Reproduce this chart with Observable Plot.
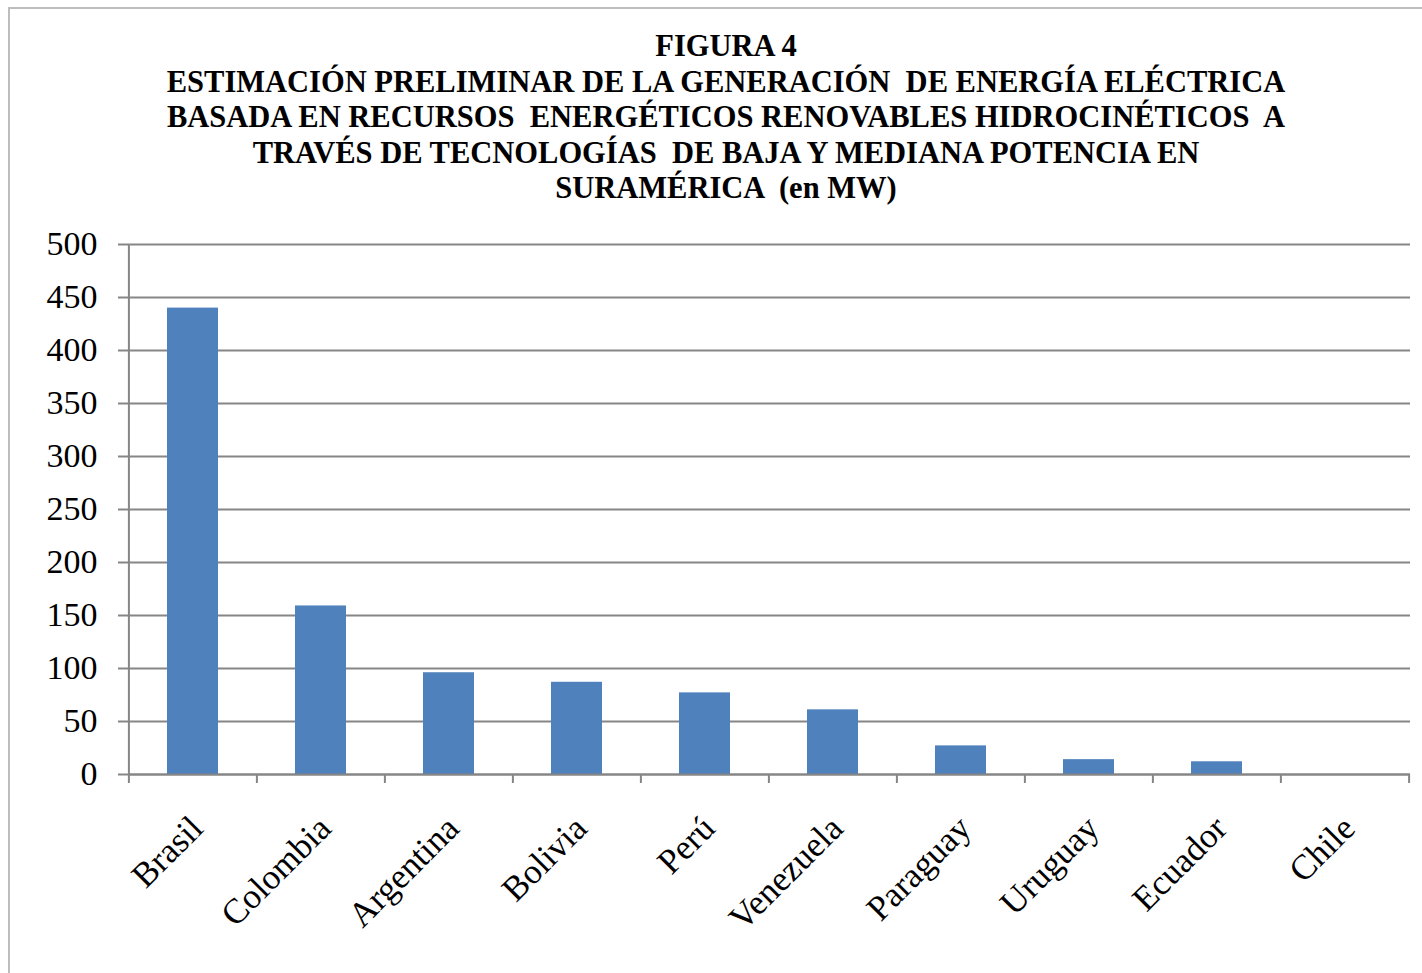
<!DOCTYPE html>
<html>
<head>
<meta charset="utf-8">
<script src="https://cdn.jsdelivr.net/npm/d3@7"></script>
<script src="https://cdn.jsdelivr.net/npm/@observablehq/plot@0.6"></script>
<style>
  html, body { margin: 0; padding: 0; background: #fff; overflow: hidden; }
  #wrap { position: relative; width: 1422px; height: 973px; overflow: hidden; }
  #border { position: absolute; left: 8px; top: 7px; width: 1500px; height: 1100px; border: 2px solid #bdbdbd; box-sizing: border-box; pointer-events: none; }
  #title { position: relative; width: 1452px; height: 207px; padding-top: 29px; box-sizing: border-box; text-align: center;
           font-family: "Liberation Serif", "Times New Roman", serif; font-weight: bold; font-size: 30.5px; line-height: 35.5px; color: #000; white-space: pre; }
  #chart { position: relative; }
</style>
</head>
<body>
<div id="wrap">
  <div id="border"></div>
  <div id="title"></div>
  <div id="chart"></div>
</div>
<script>
const titleLines = [
  "FIGURA 4",
  "ESTIMACIÓN PRELIMINAR DE LA GENERACIÓN  DE ENERGÍA ELÉCTRICA",
  "BASADA EN RECURSOS  ENERGÉTICOS RENOVABLES HIDROCINÉTICOS  A",
  "TRAVÉS DE TECNOLOGÍAS  DE BAJA Y MEDIANA POTENCIA EN",
  "SURAMÉRICA  (en MW)"
];
const categories = ["Brasil", "Colombia", "Argentina", "Bolivia", "Perú", "Venezuela", "Paraguay", "Uruguay", "Ecuador", "Chile"];
const values = [440, 159, 96, 87, 77, 61, 27, 14, 12, 0];
const yTicks = [0, 50, 100, 150, 200, 250, 300, 350, 400, 450, 500];

document.getElementById("title").textContent = titleLines.join("\n");

const data = categories.map((c, i) => ({country: c, value: values[i]}));

const W = 1422, ML = 128, MR = 12;
const step = (W - ML - MR) / categories.length;
const gray = "#868686";
const font = "'Liberation Serif', 'Times New Roman', serif";

const chart = Plot.plot({
  width: W,
  height: 766,
  marginLeft: ML,
  marginRight: MR,
  marginTop: 37,
  marginBottom: 199,
  style: {fontFamily: font, fontSize: "34px", color: "#000", background: "transparent", overflow: "visible"},
  x: {domain: categories, paddingInner: 0.6, paddingOuter: 0.3, axis: null},
  y: {domain: [0, 500], axis: null},
  marks: [
    Plot.gridY(yTicks, {stroke: gray, strokeOpacity: 1, strokeWidth: 2}),
    Plot.axisY(yTicks, {label: null, tickSize: 10, tickPadding: 21, stroke: gray, strokeWidth: 2, fill: "#000", fontSize: 34, tickFormat: d => String(d)}),
    Plot.ruleX([categories[0]], {dx: -step / 2, stroke: gray, strokeWidth: 2}),
    Plot.barY(data, {x: "country", y: "value", fill: "#4F81BD"}),
    Plot.axisX(categories, {label: null, tickSize: 9, tickFormat: () => "", dx: -step / 2, stroke: gray, strokeWidth: 2}),
    Plot.axisX([categories[categories.length - 1]], {label: null, tickSize: 9, tickFormat: () => "", dx: step / 2, stroke: gray, strokeWidth: 2}),
    Plot.ruleY([0], {stroke: gray, strokeWidth: 2}),
    Plot.axisX(categories, {label: null, tickSize: 0, tickRotate: -45, tickPadding: 48, dx: 4, fontSize: 35, fill: "#000"})
  ]
});
document.getElementById("chart").appendChild(chart);
</script>
</body>
</html>
